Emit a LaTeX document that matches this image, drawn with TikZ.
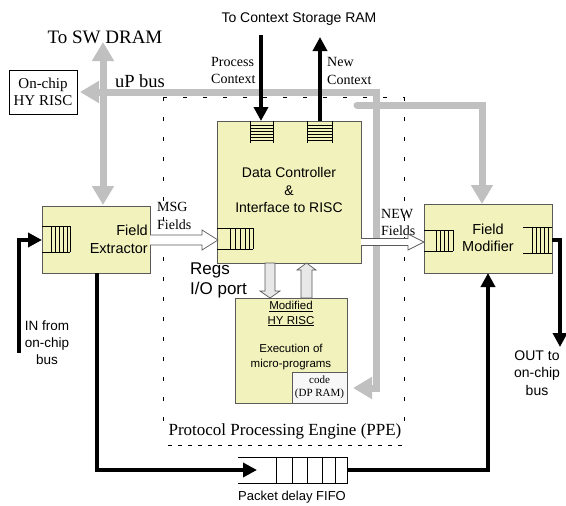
\documentclass[tikz,border=0pt]{standalone}
\usepackage{fontspec}
\setmainfont{Liberation Serif}
\setsansfont{Liberation Sans}
\usetikzlibrary{arrows.meta}
\definecolor{boxfill}{RGB}{242,242,188}
\definecolor{busgray}{RGB}{192,192,192}
\definecolor{edge}{RGB}{90,90,90}
\definecolor{blockfill}{RGB}{232,232,232}
\definecolor{codefill}{RGB}{247,247,247}
\begin{document}
\begin{tikzpicture}[x=1pt,y=-1pt,
 box/.style={draw=edge, fill=boxfill, line width=0.8pt, inner sep=0pt, outer sep=0pt, anchor=north west},
 bus/.style={draw=busgray, line width=7pt},
 gtip/.style={-{Triangle[length=19pt,width=21pt]}},
 gtips/.style={{Triangle[length=19pt,width=21pt]}-{Triangle[length=19pt,width=21pt]}},
 blk/.style={line width=3.5pt, draw=black},
 btip/.style={-{Triangle[length=14pt,width=14pt]}},
 fifoln/.style={line width=0.6pt, draw=black},
 blockarr/.style={draw=edge, line width=0.7pt},
 ppedash/.style={draw=black, line width=0.8pt, dash pattern=on 4pt off 16pt},
 ppedashb/.style={draw=black, line width=0.8pt, dash pattern=on 4pt off 6pt},
 lbl/.style={inner sep=0pt, align=center},
 sansl/.style={font={\sffamily\fontsize{14}{17}\selectfont}},
 serifl/.style={font={\rmfamily\fontsize{14}{17.5}\selectfont}}
]
\useasboundingbox (0,0) rectangle (566,506);

% PPE dashed boundary
\draw[ppedash] (163,97) -- (404,97);
\draw[ppedash] (163,97) -- (163,430);
\draw[ppedash] (404,97) -- (404,432);
\draw[ppedashb] (168,445) -- (402,445);
\node[lbl, font={\rmfamily\fontsize{17}{20}\selectfont}] (ppe) at (285,431) {Protocol Processing Engine (PPE)};

% boxes
\node[box, minimum width=68pt, minimum height=44pt, fill=white, draw=black] (onchip) at (9,70) {};
\node[lbl, font={\rmfamily\fontsize{15}{17}\selectfont}] (onchiptxt) at (onchip.center) {On-chip\\HY RISC};
\node[box, minimum width=144pt, minimum height=142pt] (dc) at (217,121) {};
\node[box, minimum width=108pt, minimum height=67pt] (fe) at (42,206) {};
\node[box, minimum width=128pt, minimum height=69pt] (fm) at (424,204) {};
\node[box, minimum width=112pt, minimum height=105pt] (risc) at (235,298) {};
\node[box, minimum width=55pt, minimum height=31pt, fill=codefill] (code) at (292,372) {};

% gray buses
\coordinate (swtop) at (103,42);
\coordinate (fetop) at (103,205);
\coordinate (upleft) at (80,92);
\coordinate (upcorner) at (376,92);
\coordinate (updown) at (376,388);
\coordinate (codein) at (353,388);
\coordinate (b2s) at (357,105);
\coordinate (b2c) at (482,105);
\coordinate (fmtop) at (482,204);
\draw[bus, gtips] (swtop) -- (fetop);
\draw[bus, gtips, line join=miter] (upleft) -- (upcorner) -- (updown) -- (codein);
\draw[bus, gtip, line cap=round, line join=miter] (b2s) -- (b2c) -- (fmtop);

% texts
\node[lbl, font={\rmfamily\fontsize{19}{22}\selectfont}] (swdram) at (105,37) {To SW DRAM};
\node[lbl, font={\rmfamily\fontsize{18.5}{22}\selectfont}] (upbus) at (140,81) {uP bus};
\node[lbl, sansl] (ctxram) at (299,19) {To Context Storage RAM};
\node[lbl, serifl, align=left, anchor=west] (pctx) at (211,70.5) {Process\\Context};
\node[lbl, serifl, align=left, anchor=west] (nctx) at (327,71) {New\\Context};
\node[lbl, sansl, font={\sffamily\fontsize{14}{17.5}\selectfont}] (dctxt) at (289,190) {Data Controller\\\&\\Interface to RISC};
\node[lbl, serifl, align=left, anchor=west] (msg) at (157,216) {MSG\\Fields};
\node[lbl, font={\sffamily\fontsize{14.5}{18}\selectfont}, align=right, anchor=east] (fetxt) at (148,239) {Field\\Extractor};
\node[lbl, font={\sffamily\fontsize{17}{20}\selectfont}, align=left, anchor=west] (regs) at (190,280) {Regs\\I/O port};
\node[lbl, serifl, align=left, anchor=west] (newf) at (381,222.5) {NEW\\Fields};
\node[lbl, font={\sffamily\fontsize{14.5}{17}\selectfont}] (fmtxt) at (488,237.5) {Field\\Modifier};
\node[lbl, font={\sffamily\fontsize{13.5}{17}\selectfont}] (intxt) at (47,343) {IN from\\on-chip\\bus};
\node[lbl, font={\sffamily\fontsize{14}{17.5}\selectfont}] (outtxt) at (537,373) {OUT to\\on-chip\\bus};
\node[lbl, font={\sffamily\fontsize{11.5}{14.3}\selectfont}] (risctxt) at (291,335.5) {\underline{Modified}\\\underline{HY RISC}\\[14.3pt]Execution of\\micro-programs};
\node[lbl, font={\rmfamily\fontsize{11}{12.5}\selectfont}] (codetxt) at (code.center) {code\\(DP RAM)};
\node[lbl, font={\sffamily\fontsize{13}{15}\selectfont}] (pdtxt) at (292,497) {Packet delay FIFO};

% FIFOs in Data Controller top
\foreach \xa/\xb in {250/273, 307/332}{
  \draw[fifoln] (\xa,121) -- (\xa,143) (\xb,121) -- (\xb,143);
  \foreach \yy in {125,128,131,134,137,140}{\draw[fifoln] (\xa,\yy) -- (\xb,\yy);}
}
% MSG FIFO inside DC
\draw[fifoln] (217,228) -- (253,228) (217,249) -- (253,249);
\foreach \xx in {230,235,240,245,249,253}{\draw[fifoln] (\xx,228) -- (\xx,249);}
% FE FIFO
\draw[fifoln] (42,226) -- (70,226) (42,252) -- (70,252);
\foreach \xx in {51,55,59,63,67,70}{\draw[fifoln] (\xx,226) -- (\xx,252);}
% FM left FIFO
\draw[fifoln] (424,230) -- (453,230) (424,251) -- (453,251);
\foreach \xx in {436,440,444,448,453}{\draw[fifoln] (\xx,230) -- (\xx,251);}
% FM right FIFO
\draw[fifoln] (523,227) -- (552,227) (523,253) -- (552,253);
\foreach \xx in {532,536,540,544,548}{\draw[fifoln] (\xx,227) -- (\xx,253);}
% Packet delay FIFO
\node[inner sep=0pt, outer sep=0pt, minimum width=109pt, minimum height=26pt] (pfifo) at (292.5,470) {};
\draw[fifoln] (238,457) -- (347,457) -- (347,483) -- (238,483);
\foreach \xx in {276,292,307,322,335}{\draw[fifoln] (\xx,457) -- (\xx,483);}

% block arrows
\draw[blockarr, fill=white] (150,235) -- (202,235) -- (202,230) -- (218,240) -- (202,250) -- (202,245) -- (150,245);
\draw[blockarr, fill=white] (361,238.5) -- (408,238.5) -- (408,234) -- (424,242) -- (408,250) -- (408,245.5) -- (361,245.5);
\draw[blockarr, fill=blockfill] (265,263) -- (275,263) -- (275,291) -- (280,291) -- (270,298) -- (260,291) -- (265,291) -- cycle;
\draw[blockarr, fill=blockfill] (301,298) -- (312,298) -- (312,270) -- (316,270) -- (306.5,263) -- (297,270) -- (301,270) -- cycle;

% black connectors
\coordinate (pcs) at (261,35);
\coordinate (pce) at (261,121);
\coordinate (ncs) at (320,121);
\coordinate (nce) at (320,37);
\coordinate (ins) at (19,353);
\coordinate (fein) at (42,240);
\coordinate (feout) at (97,273);
\coordinate (pin) at (257,470);
\coordinate (fmin) at (488,273);
\coordinate (fmout) at (552,240);
\coordinate (oute) at (560,347);
\draw[blk, btip] (pcs) -- (pce);
\draw[blk, btip] (ncs) -- (nce);
\draw[blk, btip] (ins) |- (fein);
\draw[blk, btip] (feout) |- (pin);
\draw[blk, btip] (pfifo.east) -| (fmin);
\draw[blk, btip] (fmout) -| (oute);
\end{tikzpicture}
\end{document}
